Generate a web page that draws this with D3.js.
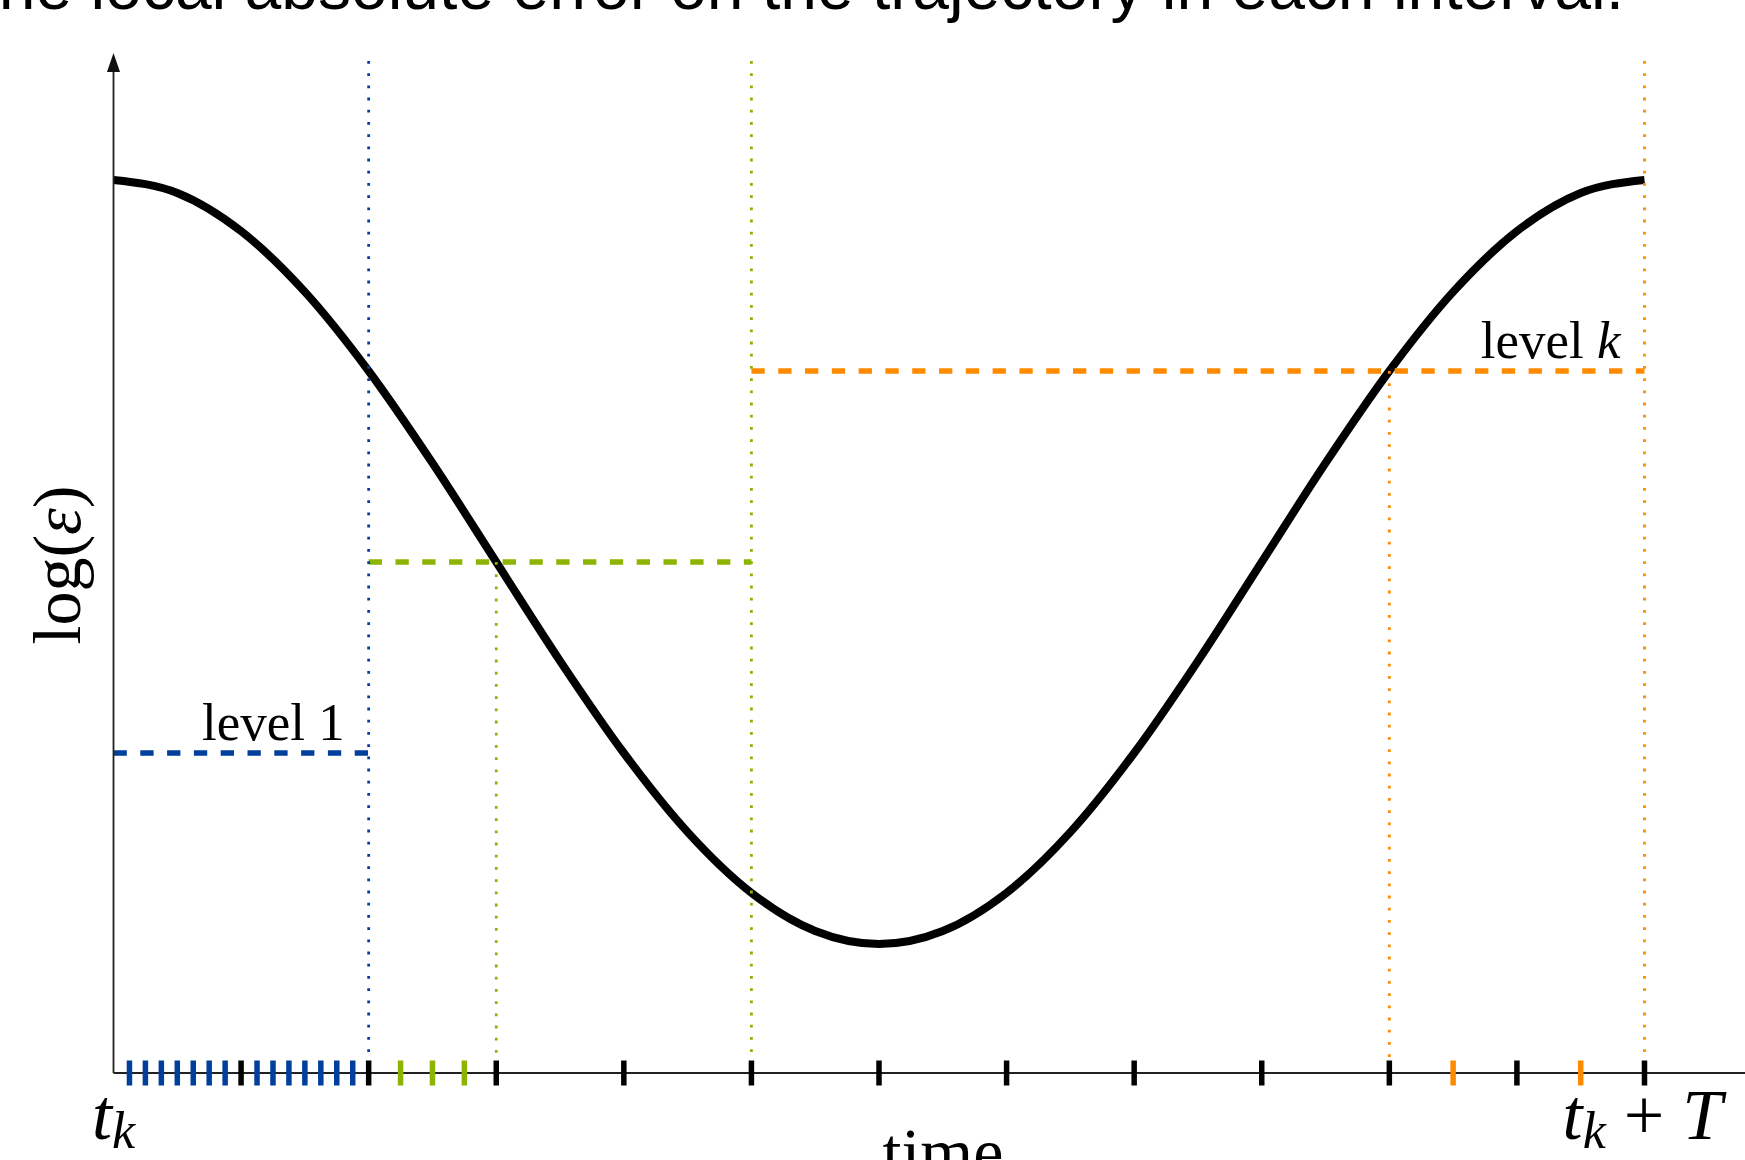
<!DOCTYPE html>
<html>
<head>
<meta charset="utf-8">
<script src="https://cdn.jsdelivr.net/npm/d3@7"></script>
<style>
  body { margin: 0; background: #fff; }
  svg { display: block; }
</style>
</head>
<body>
<svg width="1745" height="1160"></svg>
<script>
// error curve at half time-steps
var curveTime = [0, 0.5, 1, 1.5, 2, 2.5, 3, 3.5, 4, 4.5, 5, 5.5, 6,
                 6.5, 7, 7.5, 8, 8.5, 9, 9.5, 10, 10.5, 11, 11.5, 12];
var curveLogEps = [1.0, 0.966, 0.866, 0.707, 0.5, 0.259, 0, -0.259, -0.5, -0.707, -0.866, -0.966, -1.0,
                   -0.966, -0.866, -0.707, -0.5, -0.259, 0, 0.259, 0.5, 0.707, 0.866, 0.966, 1.0];

// tolerance levels
var levelStart = [0, 2, 5];
var levelEnd = [2, 5, 12];
var levelValue = [-0.5, 0, 0.5];
var levelLabel = ["level 1", "", "level k"];
var levelColor = ["#003f9b", "#8cb400", "#ff8a00"];

// vertical dotted guides (from = null means from the top)
var guideTime = [2, 3, 5, 10, 12];
var guideFrom = [null, 0, null, 0.5, null];
var guideLevel = [0, 1, 1, 2, 2];

// time steps on the axis
var blackTicks = [1, 2, 3, 4, 5, 6, 7, 8, 9, 10, 11, 12];
var blueTicks = [0.125, 0.25, 0.375, 0.5, 0.625, 0.75, 0.875,
                 1.125, 1.25, 1.375, 1.5, 1.625, 1.75, 1.875];
var greenTicks = [2.25, 2.5, 2.75];
var orangeTicks = [10.5, 11.5];

var axisY = 1073;
var guideTop = 61;
var mathFont = "'Liberation Serif', 'DejaVu Serif', serif";

var svg = d3.select("svg");

var xScale = d3.scaleLinear()
	.domain([0, 12])
	.range([113.5, 1644.5]);

var yScale = d3.scaleLinear()
	.domain([-1, 1])
	.range([944, 180]);

// clipped title line of the slide
svg.append("text")
	.attr("x", 1624)
	.attr("y", 9)
	.attr("text-anchor", "end")
	.style("font-family", "'Liberation Sans', Arial, sans-serif")
	.style("font-size", "66px")
	.text("The local absolute error on the trajectory in each interval.");

// the curve
var line = d3.line()
	.x(function(d, i) { return xScale(curveTime[i]); })
	.y(function(d) { return yScale(d); })
	.curve(d3.curveMonotoneX);

svg.append("path")
	.attr("d", line(curveLogEps))
	.attr("fill", "none")
	.attr("stroke", "#000")
	.attr("stroke-width", 8);

// dashed levels
svg.selectAll(".level")
	.data(levelValue)
	.enter().append("line")
	.attr("class", "level")
	.attr("x1", function(d, i) { return xScale(levelStart[i]); })
	.attr("x2", function(d, i) { return xScale(levelEnd[i]); })
	.attr("y1", function(d) { return yScale(d); })
	.attr("y2", function(d) { return yScale(d); })
	.attr("stroke", function(d, i) { return levelColor[i]; })
	.attr("stroke-width", 5.5)
	.attr("stroke-dasharray", "13.3,13.5");

// dotted guides
svg.selectAll(".guide")
	.data(guideTime)
	.enter().append("line")
	.attr("class", "guide")
	.attr("x1", function(d) { return xScale(d); })
	.attr("x2", function(d) { return xScale(d); })
	.attr("y1", function(d, i) { return guideFrom[i] === null ? guideTop : yScale(guideFrom[i]); })
	.attr("y2", axisY)
	.attr("stroke", function(d, i) { return levelColor[guideLevel[i]]; })
	.attr("stroke-width", 2.8)
	.attr("stroke-dasharray", "2.8,9.4");

// axes
svg.append("line")
	.attr("x1", xScale(0)).attr("x2", 1760)
	.attr("y1", axisY).attr("y2", axisY)
	.attr("stroke", "#222").attr("stroke-width", 1.8);

svg.append("line")
	.attr("x1", xScale(0)).attr("x2", xScale(0))
	.attr("y1", axisY).attr("y2", 66)
	.attr("stroke", "#222").attr("stroke-width", 1.8);

var ax = xScale(0);
svg.append("path")
	.attr("d", "M" + ax + ",53 L" + (ax - 6.5) + ",72 L" + (ax + 6.5) + ",72 Z")
	.attr("fill", "#111");

// ticks
function drawTicks(values, color) {
	svg.append("g").selectAll("line")
		.data(values)
		.enter().append("line")
		.attr("x1", function(d) { return xScale(d); })
		.attr("x2", function(d) { return xScale(d); })
		.attr("y1", axisY - 12.5)
		.attr("y2", axisY + 12.5)
		.attr("stroke", color)
		.attr("stroke-width", 5.5);
}
drawTicks(blueTicks, levelColor[0]);
drawTicks(greenTicks, levelColor[1]);
drawTicks(orangeTicks, levelColor[2]);
drawTicks(blackTicks, "#000");

// level labels
svg.selectAll(".levelLabel")
	.data(levelLabel.filter(function(d) { return d !== ""; }))
	.enter().append("text")
	.attr("class", "levelLabel")
	.attr("x", function(d) {
		var i = levelLabel.indexOf(d);
		return xScale(levelEnd[i]) - 24;
	})
	.attr("y", function(d) {
		var i = levelLabel.indexOf(d);
		return yScale(levelValue[i]) - 13;
	})
	.attr("text-anchor", "end")
	.style("font-family", mathFont)
	.style("font-size", "53px")
	.each(function(d) {
		var parts = d.split(" ");
		var t = d3.select(this);
		t.append("tspan").text(parts[0] + " ");
		t.append("tspan")
			.style("font-style", isNaN(+parts[1]) ? "italic" : "normal")
			.text(parts[1]);
	});

// y label
var yLab = svg.append("text")
	.attr("transform", "translate(80,565) rotate(-90)")
	.attr("text-anchor", "middle")
	.style("font-family", mathFont)
	.style("font-size", "68px");
yLab.append("tspan").text("log(");
yLab.append("tspan").style("font-style", "italic").text("ε");
yLab.append("tspan").text(")");

// x labels
var t0 = svg.append("text")
	.attr("x", xScale(0))
	.attr("y", 1139)
	.attr("text-anchor", "middle")
	.style("font-family", mathFont)
	.style("font-size", "72px");
t0.append("tspan").style("font-style", "italic").text("t");
t0.append("tspan").style("font-style", "italic").style("font-size", "52px").attr("dy", 9).text("k");

var t1 = svg.append("text")
	.attr("x", xScale(12) - 2)
	.attr("y", 1139)
	.attr("text-anchor", "middle")
	.style("font-family", mathFont)
	.style("font-size", "72px");
t1.append("tspan").style("font-style", "italic").text("t");
t1.append("tspan").style("font-style", "italic").style("font-size", "52px").attr("dy", 9).text("k");
t1.append("tspan").attr("dy", -9).text("\u00a0+\u00a0");
t1.append("tspan").style("font-style", "italic").text("T");

svg.append("text")
	.attr("x", 943)
	.attr("y", 1175)
	.attr("text-anchor", "middle")
	.style("font-family", mathFont)
	.style("font-size", "68px")
	.text("time");
</script>
</body>
</html>
